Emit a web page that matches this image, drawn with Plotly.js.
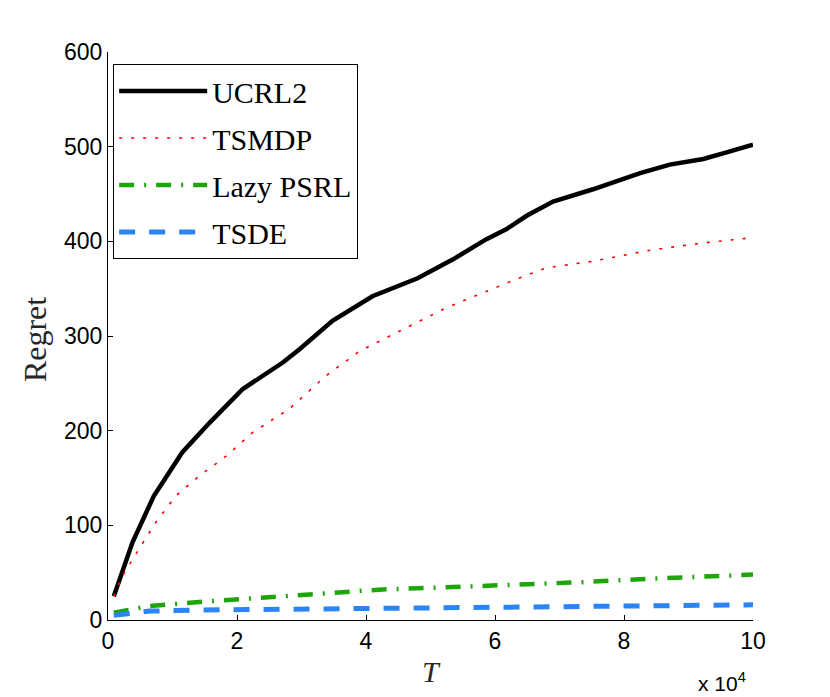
<!DOCTYPE html>
<html>
<head>
<meta charset="utf-8">
<script src="https://cdn.plot.ly/plotly-3.0.1.min.js"></script>
<style>html,body{margin:0;padding:0;background:#fff;}#chart{width:830px;height:697px;}</style>
</head>
<body>
<div id="chart"></div>
<script>
// x in units of 10^4
const ucrlX = [0.09, 0.38, 0.71, 1.15, 1.57, 2.09, 2.71, 2.97, 3.48, 4.10, 4.80, 5.35, 5.86, 6.18, 6.49, 6.90, 7.52, 8.25, 8.71, 9.23, 9.59, 10.0];
const ucrlY = [25, 82, 131, 177, 208, 244, 272, 286, 316, 342, 361, 381, 402, 413, 427, 442, 455, 472, 481, 487, 494, 502];

const tsmdpX = [0.09, 0.22, 0.48, 0.74, 1.05, 1.41, 1.83, 2.24, 2.81, 3.38, 3.90, 4.52, 5.19, 5.50, 6.33, 6.80, 7.52, 8.35, 9.07, 10.0];
const tsmdpY = [25, 46, 75, 103, 131, 152, 173, 198, 223, 258, 284, 305, 328, 337, 360, 372, 379, 390, 397, 404];

const lazyX = [0.09, 0.64, 1.41, 2.19, 2.97, 3.74, 4.26, 5.04, 6.07, 7.36, 8.40, 10.0];
const lazyY = [7.7, 14.7, 19, 22.5, 26, 30.5, 32.3, 34, 36.5, 40, 43.6, 48];

const tsdeX = [0.09, 0.64, 1.41, 2.19, 2.97, 4.00, 4.80, 6.07, 7.36, 8.40, 10.0];
const tsdeY = [4.9, 9.4, 10.5, 11, 11, 12, 12, 13, 14, 15.4, 16];

const seriesNames = ['UCRL2', 'TSMDP', 'Lazy PSRL', 'TSDE'];
const xTicks = [0, 2, 4, 6, 8, 10];
const yTicks = [0, 100, 200, 300, 400, 500, 600];

const traces = [
  {x: ucrlX, y: ucrlY, name: seriesNames[0], mode: 'lines', legendgroup: 'a',
   line: {color: '#000000', width: 4.5}},
  {x: tsmdpX, y: tsmdpY, name: seriesNames[1], mode: 'lines', legendgroup: 'b',
   line: {color: '#ff0000', width: 1.6, dash: '3px,9px'}},
  {x: lazyX, y: lazyY, name: seriesNames[2], mode: 'lines', legendgroup: 'c',
   line: {color: '#1ea50a', width: 4.5, dash: '15px,10px,2px,10px'}},
  {x: tsdeX, y: tsdeY, name: seriesNames[3], mode: 'lines', legendgroup: 'd',
   line: {color: '#2b84f5', width: 5, dash: '16px,14px'}}
];

const layout = {
  width: 830, height: 697,
  margin: {l: 108, r: 77, t: 52, b: 77},
  paper_bgcolor: '#fff', plot_bgcolor: '#fff',
  showlegend: true,
  legend: {
    x: 0.008, y: 0.979, xanchor: 'left', yanchor: 'top',
    bgcolor: '#fff', bordercolor: '#000', borderwidth: 1,
    font: {family: 'Liberation Serif', size: 30, color: '#000'},
    traceorder: 'grouped', tracegroupgap: 5, itemwidth: 88,
    entrywidth: 165, entrywidthmode: 'pixels'
  },
  xaxis: {
    range: [0, 10], tickvals: xTicks, ticktext: xTicks.map(String),
    ticks: 'inside', ticklen: 5, tickcolor: '#000', showline: true, linecolor: '#000', linewidth: 1,
    showgrid: false, zeroline: false, mirror: false,
    tickfont: {family: 'Liberation Sans', size: 23, color: '#000'}
  },
  yaxis: {
    range: [0, 600], tickvals: yTicks, ticktext: yTicks.map(String),
    ticks: 'inside', ticklen: 5, tickcolor: '#000', showline: true, linecolor: '#000', linewidth: 1,
    showgrid: false, zeroline: false, mirror: false,
    tickfont: {family: 'Liberation Sans', size: 23, color: '#000'}
  },
  annotations: [
    {text: 'Regret', xref: 'paper', yref: 'paper', x: -0.113, xanchor: 'center', y: 0.493, yanchor: 'middle', showarrow: false,
     textangle: -90, font: {family: 'Liberation Serif', size: 32, color: '#262626'}},
    {text: '<i>T</i>', xref: 'paper', yref: 'paper', x: 0.5008, xanchor: 'center', y: -0.0915, yanchor: 'middle', showarrow: false,
     font: {family: 'Liberation Serif', size: 30, color: '#262626'}},
    {text: 'x 10<sup>4</sup>', xref: 'paper', yref: 'paper', x: 0.992, xanchor: 'right', y: -0.11, yanchor: 'middle', showarrow: false,
     font: {family: 'Liberation Sans', size: 21, color: '#000'}}
  ]
};

Plotly.newPlot('chart', traces, layout, {displayModeBar: false, staticPlot: true});
</script>
</body>
</html>
